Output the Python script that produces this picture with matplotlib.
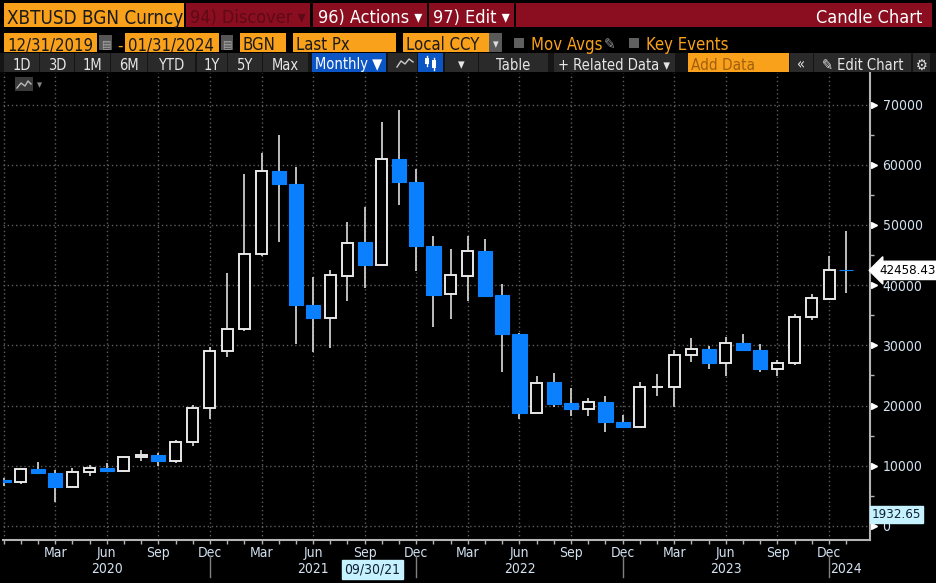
import matplotlib.pyplot as plt
from matplotlib.patches import Rectangle
import pandas as pd

# monthly OHLC, Dec 2019 .. Jan 2024
months = pd.period_range('2019-12', '2024-01', freq='M')
opens = [7640, 7260, 9470, 8750, 6530, 9000, 9630, 9190, 11400, 11790, 10750, 13950,
         19600, 29070, 32700, 45200, 58970, 56800, 36650, 34600, 41600, 47100, 43400, 60960,
         57150, 46430, 38470, 41600, 45730, 38300, 31880, 18820, 23850, 20350, 19490, 20550,
         17220, 16500, 23100, 23160, 28430, 29450, 27050, 30400, 29280, 26080, 27050, 34680,
         37780, 42580]
highs = [7900, 9600, 10680, 9300, 9580, 10130, 10500, 11630, 12620, 12100, 14230, 20100,
         29790, 42030, 58470, 61910, 64950, 59630, 41360, 42520, 50550, 53040, 67110, 69100,
         59250, 48170, 45960, 48220, 47620, 40150, 32110, 24870, 25370, 22970, 21210, 21590,
         18440, 23970, 25300, 29240, 31180, 29900, 31450, 31890, 30230, 27570, 35160, 38490,
         44850, 49050]
lows = [6600, 6900, 8580, 4040, 6400, 8350, 8950, 9000, 10850, 9970, 10500, 13340,
        17770, 28130, 32450, 44850, 47130, 30180, 28950, 29520, 37430, 39590, 43300, 53380,
        42360, 33110, 34440, 37300, 37990, 25530, 17770, 18700, 19820, 18270, 18270, 15660,
        16400, 16450, 21640, 19710, 27190, 26080, 24970, 29070, 25580, 24970, 26690, 34270,
        37700, 38650]
closes = [7260, 9470, 8750, 6530, 9020, 9630, 9190, 11460, 11790, 10750, 13950, 19600,
          29070, 32720, 45250, 58970, 56780, 36650, 34600, 41620, 47080, 43380, 60960, 57100,
          46430, 38450, 41620, 45730, 38280, 31860, 18820, 23820, 20290, 19490, 20550, 17200,
          16500, 23040, 23160, 28450, 29450, 27050, 30400, 29200, 26050, 27120, 34700, 37800,
          42580, 42458.43]

y_ticks = [0, 10000, 20000, 30000, 40000, 50000, 60000, 70000]
last_px = 42458.43
low_marker = 1932.65
cursor_date = '09/30/21'

# bloomberg uses a narrow face, DejaVu Sans Condensed is the closest we have
plt.rcParams['font.family'] = ['DejaVu Sans']
plt.rcParams['font.stretch'] = 'condensed'

TXT = '#d3e1f0'
BLUE = '#0a80ff'
SPINE = '#b4b4b4'
ORANGE = '#f9a11b'
RED = '#8a0e1f'
BTN = '#2a2a2a'
FS = 9.5

W, H = 936, 583
fig = plt.figure(figsize=(W / 100, H / 100), dpi=100, facecolor='black')


def px(x0, y0, x1, y1):
    return [x0 / W, 1 - y1 / H, (x1 - x0) / W, (y1 - y0) / H]


ax = fig.add_axes(px(3, 73, 870, 540))
ax.set_facecolor('black')

for i, (o, h, l, c) in enumerate(zip(opens, highs, lows, closes)):
    ax.vlines(i, l, h, color='#cccccc', lw=1.3, zorder=2)
    if c >= o:
        ax.add_patch(Rectangle((i - 0.32, o), 0.64, c - o, fc='black', ec='#e8e8e8',
                               lw=1.4, zorder=3))
    else:
        ax.add_patch(Rectangle((i - 0.41, c), 0.82, o - c, fc=BLUE, ec=BLUE,
                               lw=0.8, zorder=3))

ax.set_xlim(-0.03, 50.38)
ax.set_ylim(-2330, 75250)

quarters = list(range(0, len(months), 3))
ax.set_xticks(quarters)
ax.set_xticklabels(['' if q == 0 else months[q].strftime('%b') for q in quarters])
ax.set_xticks(range(len(months)), minor=True)
ax.set_yticks(y_ticks)
ax.set_yticklabels([str(v) for v in y_ticks])
ax.set_yticks(range(5000, 75000, 10000), minor=True)
ax.grid(which='major', color='#5e5e5e', ls=(0, (1, 2)), lw=1)
ax.set_axisbelow(True)

ax.yaxis.tick_right()
ax.tick_params(axis='y', which='major', length=0, pad=9, labelcolor=TXT, labelsize=FS + 0.5)
ax.tick_params(axis='y', which='minor', length=3, color=SPINE, width=1)
ax.tick_params(axis='x', which='both', length=3, color=SPINE, width=1, direction='out',
               pad=1, labelcolor=TXT, labelsize=FS + 0.5)
for side in ['left', 'top']:
    ax.spines[side].set_visible(False)
for side in ['right', 'bottom']:
    ax.spines[side].set_color(SPINE)
    ax.spines[side].set_linewidth(1.5)

ax.plot([1.005] * len(y_ticks), y_ticks, transform=ax.get_yaxis_transform(),
        marker='>', ms=5, color='white', ls='none', clip_on=False)

# years under the month labels, separators at December
ytr = ax.get_xaxis_transform()
for m in range(len(months)):
    if months[m].month == 6 or m == len(months) - 1:
        ax.text(m, -29 / 467, str(months[m].year), transform=ytr, ha='center',
                va='center', color=TXT, fontsize=FS + 0.5)
    if months[m].month == 12 and m > 0:
        ax.plot([m, m], [-16 / 467, -37 / 467], transform=ytr, color='#808080',
                lw=1, clip_on=False)

ax.text(1 + 9 / 867, last_px, f'{last_px:.2f}', transform=ax.get_yaxis_transform(),
        ha='left', va='center', color='black', fontsize=FS,
        bbox=dict(boxstyle='larrow,pad=0.2', fc='white', ec='white'))
ax.text(1 + 2 / 867, low_marker, f'{low_marker:.2f}', transform=ax.get_yaxis_transform(),
        ha='left', va='center', color='#102030', fontsize=FS,
        bbox=dict(boxstyle='square,pad=0.15', fc='#c6f1ff', ec='#c6f1ff'))

# ---- terminal header ----
ov = fig.add_axes([0, 0, 1, 1], zorder=5)
ov.set_xlim(0, W)
ov.set_ylim(H, 0)
ov.axis('off')
ov.patch.set_visible(False)


def box(x0, x1, y0, y1, fc, text=None, tc='white', fs=FS, ha='center', pad=3):
    ov.add_patch(Rectangle((x0, y0), x1 - x0, y1 - y0, fc=fc, ec='none'))
    if text:
        tx = {'center': (x0 + x1) / 2, 'left': x0 + pad, 'right': x1 - pad}[ha]
        ov.text(tx, (y0 + y1) / 2 + 1, text, color=tc, fontsize=fs, ha=ha,
                va='center_baseline')


box(4, 184, 3, 27, ORANGE, 'XBTUSD BGN Curncy', '#1a1a1a', 13.5, 'left')
box(186, 310, 3, 27, RED, '94) Discover ▾', '#5e0a16', 13)
box(313, 427, 3, 27, RED, '96) Actions ▾', 'white', 13)
box(429, 514, 3, 27, RED, '97) Edit ▾', 'white', 13)
box(516, 932, 3, 27, RED, 'Candle Chart', 'white', 13, 'right', 10)

box(4, 97, 33, 52, ORANGE, '12/31/2019', '#1a1a1a', 12, 'left')
box(99, 112, 35, 50, '#555555', '▤', '#aaaaaa', 8)
ov.text(120, 43.5, '-', color=ORANGE, fontsize=12, ha='center', va='center_baseline')
box(125, 219, 33, 52, ORANGE, '01/31/2024', '#1a1a1a', 12, 'left')
box(221, 233, 35, 50, '#555555', '▤', '#aaaaaa', 8)
box(240, 286, 33, 52, ORANGE, 'BGN', '#1a1a1a', 12, 'left')
box(293, 396, 33, 52, ORANGE, 'Last Px', '#1a1a1a', 12, 'left')
box(403, 489, 33, 52, ORANGE, 'Local CCY', '#1a1a1a', 12, 'left')
box(489, 502, 33, 52, '#5a5a5a', '▾', '#dddddd', 9)
box(514, 524, 38, 48, '#606060')
ov.text(531, 43.5, 'Mov Avgs', color=ORANGE, fontsize=12, va='center_baseline')
ov.text(604, 43.5, '✎', color='#9a9a9a', fontsize=11, va='center_baseline')
box(629, 639, 38, 48, '#606060')
ov.text(646, 43.5, 'Key Events', color=ORANGE, fontsize=12, va='center_baseline')

box(0, W, 53, 72, '#151515')
buttons = [(4, 39, '1D'), (40, 74, '3D'), (75, 110, '1M'), (111, 147, '6M'),
           (148, 195, 'YTD'), (197, 227, '1Y'), (228, 262, '5Y'), (263, 308, 'Max'),
           (445, 478, '▾'), (479, 548, 'Table'), (554, 675, '+ Related Data ▾'),
           (790, 813, '«'), (814, 911, '✎ Edit Chart'), (913, 930, '⚙')]
for x0, x1, label in buttons:
    box(x0, x1, 53, 72, BTN, label, '#e6e6e6', 10.5)
box(312, 386, 53, 72, '#0b55c4', 'Monthly ▼', 'white', 10.5)
box(388, 417, 53, 72, BTN)
ov.plot([397, 401, 405, 409, 413], [67, 61, 64, 59, 62], color='#cccccc', lw=1)
box(418, 443, 53, 72, '#0b55c4')
for cx, yb, yt in [(427, 64, 58), (434, 68, 60)]:
    ov.plot([cx, cx], [yb + 2, yt - 2], color='white', lw=1)
    ov.add_patch(Rectangle((cx - 2, yt), 4, yb - yt, fc='white', ec='none'))
box(688, 789, 53, 72, ORANGE, 'Add Data', '#a0600e', 11, 'left')

box(15, 33, 77, 91, '#3a3a3a')
ov.plot([17, 21, 25, 28, 31], [88, 83, 86, 81, 84], color='#bbbbbb', lw=1)
ov.text(39, 84, '▾', color='#888888', fontsize=8, ha='center', va='center_baseline')

ov.text(372.5, 568, cursor_date, color='#102030', fontsize=FS + 0.5, ha='center',
        va='center_baseline',
        bbox=dict(boxstyle='square,pad=0.15', fc='#c6f1ff', ec='#c6f1ff'))

fig.savefig('out.png', dpi=100, facecolor='black')
